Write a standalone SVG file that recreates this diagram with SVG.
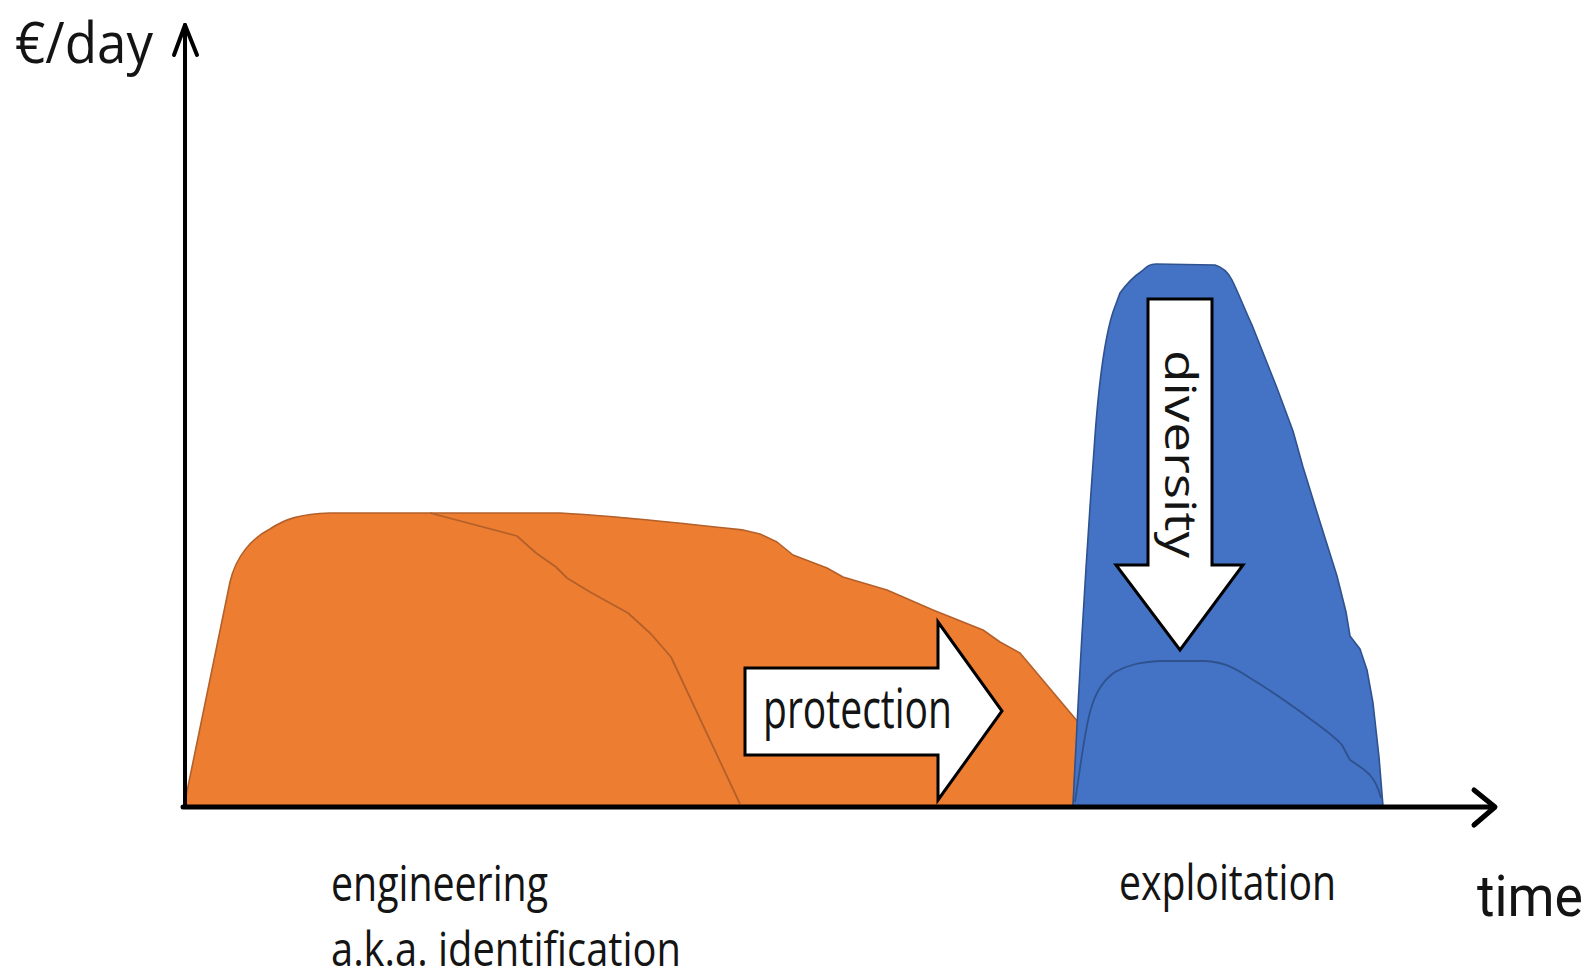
<svg xmlns="http://www.w3.org/2000/svg" width="1595" height="980" viewBox="0 0 1595 980">
<style>
.lbl{font-family:"Open Sans","Liberation Sans",sans-serif;fill:#141414}
.orange{fill:#ED7D31;stroke:#B4602A;stroke-width:1.6;stroke-linejoin:round}
.blue{fill:#4472C4;stroke:#2F528F;stroke-width:1.6;stroke-linejoin:round}
.oline{fill:none;stroke:#B4602A;stroke-width:1.8;stroke-linejoin:round}
.bline{fill:none;stroke:#2F528F;stroke-width:1.8;stroke-linejoin:round}
.barrow{fill:#FFFFFF;stroke:#000000;stroke-width:3;stroke-linejoin:miter}
.axis{fill:none;stroke:#000000;stroke-linecap:round;stroke-linejoin:round}
</style>
<rect width="1595" height="980" fill="#FFFFFF"/>
<g id="engineering-area">
<path class="orange" d="M184,806 L230,582 C236,556 252,538 270,529 C285,519 300,514 330,513 L560,513 C620,516 690,524 743,530 L760,534 L777,542 L793,555 L827,568 L843,577 L887,590 L933,610 L983,630 L1000,642 L1020,653 L1078,722 L1073,806 Z"/>
<path class="oline" d="M430,513 L517,536 L536,553 L556,567 L567,578 L590,592 L628,613 L651,634 L671,657 L740,804"/>
</g>
<g id="protection-arrow">
<polygon class="barrow" points="745,668 938,668 938,622 1002,711 938,800 938,755 745,755"/>
<text class="lbl" x="763" y="728" font-size="54" textLength="189" lengthAdjust="spacingAndGlyphs">protection</text>
</g>
<g id="exploitation-area">
<path class="blue" d="M1073,806 C1078,700 1086,560 1094,450 C1098,390 1104,340 1113,312 L1120,293 C1128,282 1136,275 1142,271 C1147,266 1150,264 1156,264 L1215,265 C1222,267 1228,272 1232,280 C1238,292 1245,310 1252,325 C1262,350 1270,370 1277,388 L1293,431 L1303,467 L1320,522 L1337,576 L1346,612 L1350,636 L1360,649 L1367,670 L1373,703 L1379,757 L1383,806 Z"/>
<path class="bline" d="M1075,802 C1080,770 1084,735 1090,712 C1096,690 1104,680 1115,672 C1128,665 1140,662 1160,661 L1205,661 C1222,662 1232,666 1250,678 C1270,690 1290,704 1313,721 C1325,730 1335,737 1342,745 L1350,760 C1358,765 1365,770 1370,775 C1376,782 1379,790 1381,798"/>
</g>
<g id="diversity-arrow">
<polygon class="barrow" points="1148,299 1212,299 1212,565 1243,565 1180,650 1116,565 1148,565"/>
<text class="lbl" x="0" y="0" font-size="43" textLength="208" lengthAdjust="spacingAndGlyphs" transform="translate(1165,350) rotate(90)">diversity</text>
</g>
<g id="connectors">
<path class="axis" stroke-width="4" d="M185,807 L185,25"/>
<path class="axis" stroke-width="4" d="M174,55 L185,25 L197,55"/>
<path class="axis" stroke-width="5" d="M183,807 L1494,807"/>
<path class="axis" stroke-width="5" d="M1474,790 L1495,807 L1474,825"/>
</g>
<g id="label-yaxis"><text class="lbl" x="15" y="63" font-size="56" textLength="138" lengthAdjust="spacingAndGlyphs">€/day</text></g>
<g id="label-engineering">
<text class="lbl" x="331" y="901" font-size="50" textLength="217" lengthAdjust="spacingAndGlyphs">engineering</text>
<text class="lbl" x="331" y="966" font-size="48" textLength="350" lengthAdjust="spacingAndGlyphs">a.k.a. identification</text>
</g>
<g id="label-exploitation"><text class="lbl" x="1119" y="900" font-size="50" textLength="217" lengthAdjust="spacingAndGlyphs">exploitation</text></g>
<g id="label-time"><text class="lbl" x="1477" y="916" font-size="57" textLength="106" lengthAdjust="spacingAndGlyphs" style="font-family:Roboto,'Open Sans',sans-serif">time</text></g>
</svg>
